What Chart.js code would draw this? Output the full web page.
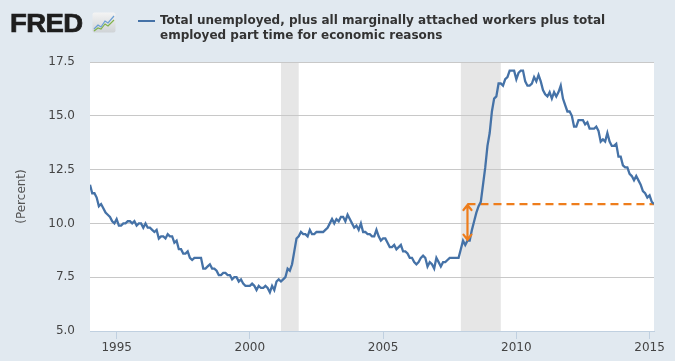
<!DOCTYPE html>
<html>
<head>
<meta charset="utf-8">
<script src="https://cdn.jsdelivr.net/npm/chart.js@4"></script>
<style>
  html, body { margin: 0; padding: 0; background: #e1e9f0; }
  #wrap { position: relative; width: 675px; height: 361px; overflow: hidden; background: #e1e9f0; }
  canvas { position: absolute; left: 0; top: 0; }
  #logo { position: absolute; left: 10px; top: 11px; font-family: "Liberation Sans", Arial, sans-serif; font-weight: bold;
          font-size: 25px; line-height: 25px; color: #1e1e1e; transform: scaleX(1.1); transform-origin: left top;
          -webkit-text-stroke: 0.7px #1e1e1e; letter-spacing: -0.5px; }
  #icon { position: absolute; left: 92px; top: 12px; }
  #legMark { position: absolute; left: 138px; top: 20px; width: 17px; height: 2px; background: #4572a7; }
  #legText { position: absolute; left: 160px; top: 13px; font-family: "DejaVu Sans", Verdana, sans-serif; font-weight: bold;
             font-size: 12px; line-height: 15px; color: #333; white-space: nowrap; }
</style>
</head>
<body>
<div id="wrap">
  <canvas id="c" width="675" height="361"></canvas>
  <div id="logo">FRED</div>
  <svg id="icon" width="24" height="21" viewBox="0 0 24 21">
    <defs><linearGradient id="g" x1="0" y1="0" x2="0" y2="1"><stop offset="0" stop-color="#f4f4f4"/><stop offset="1" stop-color="#cfd3d6"/></linearGradient></defs>
    <rect x="0.5" y="0.5" width="23" height="20" rx="2" fill="url(#g)"/>
    <polyline points="2,17 6,13 9,15 13,9 16,11 22,4" fill="none" stroke="#6a9fd4" stroke-width="1.2"/>
    <polyline points="2,19 6,16 9,17 13,12 16,14 22,8" fill="none" stroke="#7fb24a" stroke-width="1.2"/>
  </svg>
  <div id="legMark"></div>
  <div id="legText">Total unemployed, plus all marginally attached workers plus total<br>employed part time for economic reasons</div>
</div>
<script>
// ---- Data (monthly, seasonally adjusted, percent) ----
const startYear = 1994;
const u6 = [
  11.8, 11.4, 11.4, 11.2, 10.8, 10.9, 10.7, 10.5, 10.4, 10.3, 10.1, 10.0,
  10.2, 9.9, 9.9, 10.0, 10.0, 10.1, 10.1, 10.0, 10.1, 9.9, 10.0, 10.0,
  9.8, 10.0, 9.8, 9.8, 9.7, 9.6, 9.7, 9.3, 9.4, 9.4, 9.3, 9.5,
  9.4, 9.4, 9.1, 9.2, 8.8, 8.8, 8.6, 8.6, 8.7, 8.4, 8.3, 8.4,
  8.4, 8.4, 8.4, 7.9, 7.9, 8.0, 8.1, 7.9, 7.9, 7.8, 7.6, 7.6,
  7.7, 7.7, 7.6, 7.6, 7.4, 7.5, 7.5, 7.3, 7.4, 7.2, 7.1, 7.1,
  7.1, 7.2, 7.1, 6.9, 7.1, 7.0, 7.0, 7.1, 7.0, 6.8, 7.1, 6.9,
  7.3, 7.4, 7.3, 7.4, 7.5, 7.9, 7.8, 8.1, 8.7, 9.3, 9.4, 9.6,
  9.5, 9.5, 9.4, 9.7, 9.5, 9.5, 9.6, 9.6, 9.6, 9.6, 9.7, 9.8,
  10.0, 10.2, 10.0, 10.2, 10.1, 10.3, 10.3, 10.1, 10.4, 10.2, 10.0, 9.8,
  9.9, 9.7, 10.0, 9.6, 9.6, 9.5, 9.5, 9.4, 9.4, 9.7, 9.4, 9.2,
  9.3, 9.3, 9.1, 8.9, 8.9, 9.0, 8.8, 8.9, 9.0, 8.7, 8.7, 8.6,
  8.4, 8.4, 8.2, 8.1, 8.2, 8.4, 8.5, 8.4, 8.0, 8.2, 8.1, 7.9,
  8.4, 8.2, 8.0, 8.2, 8.2, 8.3, 8.4, 8.4, 8.4, 8.4, 8.4, 8.8,
  9.2, 9.0, 9.2, 9.2, 9.7, 10.1, 10.5, 10.8, 11.0, 11.8, 12.6, 13.6,
  14.2, 15.2, 15.8, 15.9, 16.5, 16.5, 16.4, 16.7, 16.8, 17.1, 17.1, 17.1,
  16.7, 17.0, 17.1, 17.1, 16.6, 16.4, 16.4, 16.5, 16.8, 16.6, 16.9, 16.6,
  16.2, 16.0, 15.9, 16.1, 15.8, 16.1, 15.9, 16.1, 16.4, 15.8, 15.5, 15.2,
  15.2, 15.0, 14.5, 14.5, 14.8, 14.8, 14.8, 14.6, 14.7, 14.4, 14.4, 14.4,
  14.5, 14.3, 13.8, 13.9, 13.8, 14.2, 13.8, 13.6, 13.6, 13.7, 13.1, 13.1,
  12.7, 12.6, 12.6, 12.3, 12.2, 12.0, 12.2, 12.0, 11.8, 11.5, 11.4, 11.2,
  11.3, 11.0, 10.9
];
const recessionStarts = [2001 + 2/12, 2007 + 11/12];
const recessionEnds   = [2001 + 10/12, 2009 + 5/12];
const xTickYears = [1995, 2000, 2005, 2010, 2015];
const yTickValues = [5, 7.5, 10, 12.5, 15, 17.5];
const referenceLevel = 10.9;          // dashed line level
const referenceStart = 2008 + 2/12;   // Mar 2008, arrow position
const arrowLow = 9.2;                 // arrow bottom value

const xMin = startYear;
const xMax = startYear + (u6.length - 1) / 12;
const points = u6.map((v, i) => ({ x: startYear + i / 12, y: v }));

const BLUE = '#4572a7';
const ORANGE = '#ee7d1c';

const bgPlugin = {
  id: 'bg',
  beforeDraw(chart) {
    const { ctx, chartArea: a, scales: { x } } = chart;
    ctx.save();
    ctx.fillStyle = '#ffffff';
    ctx.fillRect(a.left, a.top, a.right - a.left, a.bottom - a.top);
    ctx.fillStyle = '#e6e6e6';
    recessionStarts.forEach((s, i) => {
      const x0 = x.getPixelForValue(s), x1 = x.getPixelForValue(recessionEnds[i]);
      ctx.fillRect(x0, a.top, x1 - x0, a.bottom - a.top);
    });
    ctx.restore();
  }
};

const arrowPlugin = {
  id: 'arrow',
  afterDatasetsDraw(chart) {
    const { ctx, scales: { x, y } } = chart;
    const px = x.getPixelForValue(referenceStart);
    const yTop = y.getPixelForValue(referenceLevel);
    const yBot = y.getPixelForValue(arrowLow);
    ctx.save();
    ctx.strokeStyle = ORANGE;
    ctx.lineWidth = 2.2;
    ctx.lineCap = 'round';
    ctx.beginPath();
    ctx.moveTo(px, yTop + 1); ctx.lineTo(px, yBot - 1);
    ctx.moveTo(px - 4, yTop + 6); ctx.lineTo(px, yTop + 1); ctx.lineTo(px + 4, yTop + 6);
    ctx.moveTo(px - 4, yBot - 6); ctx.lineTo(px, yBot - 1); ctx.lineTo(px + 4, yBot - 6);
    ctx.stroke();
    ctx.restore();
  }
};

new Chart(document.getElementById('c'), {
  type: 'line',
  data: {
    datasets: [
      {
        label: 'U-6',
        data: points,
        borderColor: BLUE,
        borderWidth: 2.3,
        pointRadius: 0,
        tension: 0,
        fill: false
      },
      {
        label: 'Reference',
        data: [{ x: referenceStart, y: referenceLevel }, { x: xMax, y: referenceLevel }],
        borderColor: ORANGE,
        borderWidth: 2.3,
        borderDash: [8, 5],
        pointRadius: 0,
        fill: false
      }
    ]
  },
  options: {
    responsive: false,
    animation: false,
    devicePixelRatio: 1,
    layout: { padding: { top: 62, right: 21, left: 0, bottom: 0 } },
    plugins: { legend: { display: false }, tooltip: { enabled: false }, title: { display: false } },
    scales: {
      x: {
        type: 'linear',
        min: xMin,
        max: xMax,
        afterBuildTicks: (s) => { s.ticks = xTickYears.map(v => ({ value: v })); },
        afterFit: (s) => { s.height = 30; },
        grid: { drawOnChartArea: false, drawTicks: true, tickLength: 8, color: '#c0d0e0' },
        border: { display: true, color: '#c0d0e0' },
        ticks: {
          autoSkip: false, maxRotation: 0, padding: 2,
          color: '#444', font: { family: 'DejaVu Sans', size: 12 },
          callback: (v) => String(v)
        }
      },
      y: {
        min: 5,
        max: 17.5,
        afterBuildTicks: (s) => { s.ticks = yTickValues.map(v => ({ value: v })); },
        afterFit: (s) => { s.width = 90; },
        grid: { drawTicks: false, color: '#c8c8c8' },
        border: { display: false },
        ticks: {
          padding: 15, color: '#444', font: { family: 'DejaVu Sans', size: 12 },
          callback: (v) => Number(v).toFixed(1)
        },
        title: {
          display: true, text: '(Percent)', color: '#555',
          font: { family: 'DejaVu Sans', size: 12 },
          padding: { top: 15, bottom: 0 }
        }
      }
    }
  },
  plugins: [bgPlugin, arrowPlugin]
});
</script>
</body>
</html>
